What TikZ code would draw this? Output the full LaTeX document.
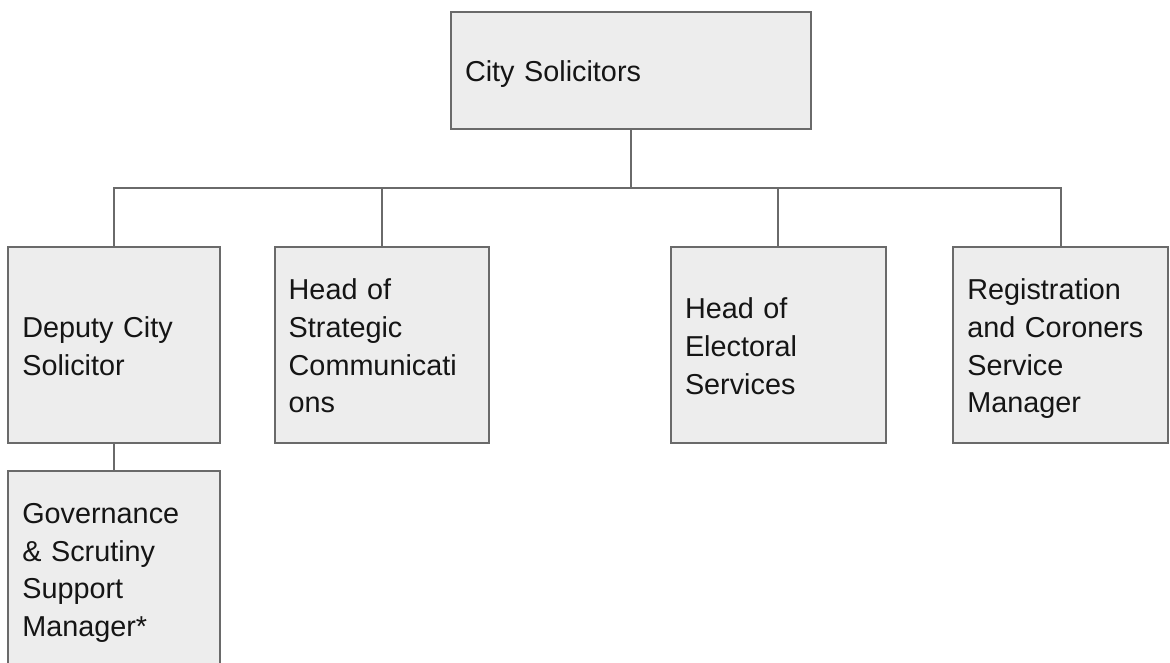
\documentclass[tikz,border=0pt]{standalone}
\usepackage{fontspec}
\setmainfont{Liberation Sans}
\definecolor{boxfill}{HTML}{EDEDED}
\definecolor{boxline}{HTML}{6A6A6A}
\definecolor{txt}{HTML}{151515}
\begin{document}
\begin{tikzpicture}[x=1pt,y=-1pt,
  box/.style={draw=boxline, line width=2pt, fill=boxfill, rectangle,
    inner xsep=14pt, inner ysep=0pt, align=left, text=txt,
    font=\fontsize{28.8}{37.7}\selectfont, text height=22pt,
    minimum height=196pt, anchor=center},
  conn/.style={draw=boxline, line width=2pt}]
\useasboundingbox (0,0) rectangle (1170,662);
\node[box, text width=332pt, minimum height=117pt, text depth=0pt] (top) at (631,70.5) {City Solicitors};
\node[box, text width=183.7pt, text depth=37.7pt] (dep) at (114.15,345.3) {Deputy City\\Solicitor};
\node[box, text width=186pt, text depth=113.1pt] (str) at (381.7,345.3) {Head of\\Strategic\\Communicati\\ons};
\node[box, text width=186.7pt, text depth=75.4pt] (ele) at (778.35,345.3) {Head of\\Electoral\\Services};
\node[box, text width=187pt, text depth=113.1pt] (reg) at (1060.8,345.3) {Registration\\and Coroners\\Service\\Manager};
\node[box, text width=183.7pt, text depth=113.1pt] (gov) at (114.15,569) {Governance\\\& Scrutiny\\Support\\Manager*};
\coordinate (bus) at (630,188);
\draw[conn] (top.south) -- (top.south |- bus);
\draw[conn] (dep.north) -- (dep.north |- bus) -- (reg.north |- bus) -- (reg.north);
\draw[conn] (str.north) -- (str.north |- bus);
\draw[conn] (ele.north) -- (ele.north |- bus);
\draw[conn] (dep.south) -- (gov.north);
\end{tikzpicture}
\end{document}
